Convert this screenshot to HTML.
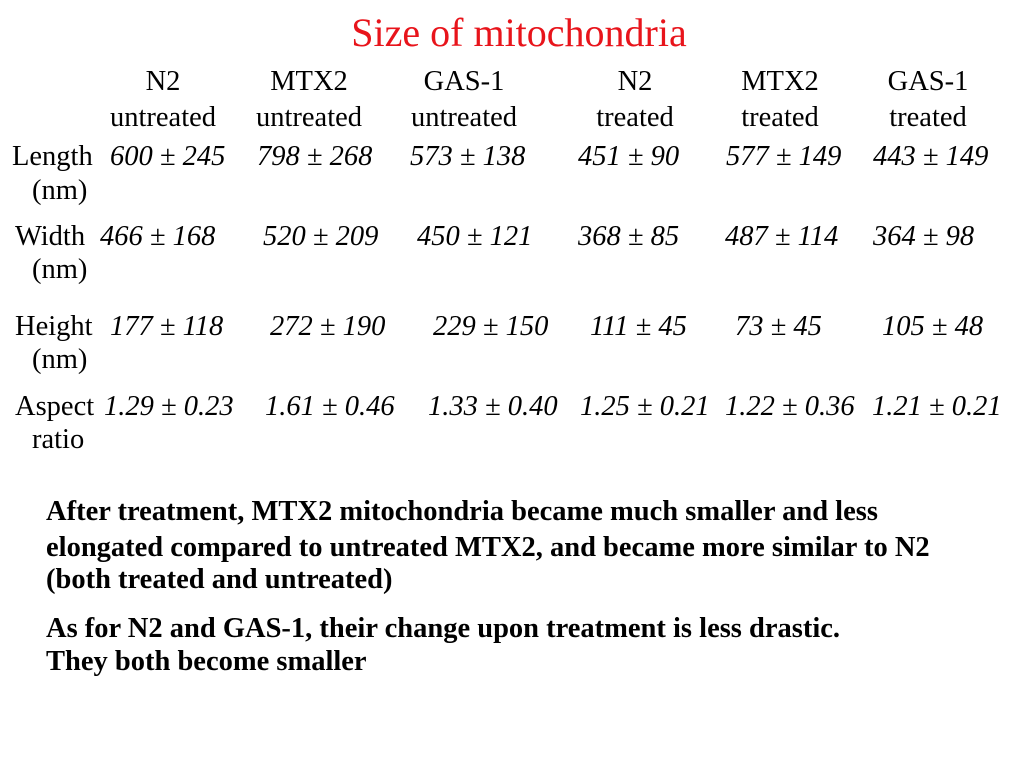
<!DOCTYPE html>
<html><head><meta charset="utf-8"><style>
body{margin:0;width:1024px;height:767px;background:#fff;position:relative;overflow:hidden;font-family:"Liberation Serif",serif;color:#000}
div{position:absolute;white-space:nowrap;line-height:1}
.t{font-size:40px;color:#e8141b;left:0;width:1038px;text-align:center;top:13px}
.h{font-size:28.5px;text-align:center;width:180px}
.l{font-size:28.5px}
.v{font-size:28.5px;font-style:italic}
.b{font-size:28.5px;font-weight:bold;left:46px}
</style></head><body>
<div class="t">Size of mitochondria</div>
<div class="h" style="left:73px;top:68px">N2</div><div class="h" style="left:73px;top:104px">untreated</div>
<div class="h" style="left:219px;top:68px">MTX2</div><div class="h" style="left:219px;top:104px">untreated</div>
<div class="h" style="left:374px;top:68px">GAS-1</div><div class="h" style="left:374px;top:104px">untreated</div>
<div class="h" style="left:545px;top:68px">N2</div><div class="h" style="left:545px;top:104px">treated</div>
<div class="h" style="left:690px;top:68px">MTX2</div><div class="h" style="left:690px;top:104px">treated</div>
<div class="h" style="left:838px;top:68px">GAS-1</div><div class="h" style="left:838px;top:104px">treated</div>

<div class="l" style="left:12px;top:143px">Length</div><div class="l" style="left:32px;top:177px">(nm)</div>
<div class="l" style="left:15px;top:223px">Width</div><div class="l" style="left:32px;top:256px">(nm)</div>
<div class="l" style="left:15px;top:313px">Height</div><div class="l" style="left:32px;top:346px">(nm)</div>
<div class="l" style="left:15px;top:393px">Aspect</div><div class="l" style="left:32px;top:426px">ratio</div>

<div class="v" style="left:110px;top:143px">600 ± 245</div>
<div class="v" style="left:257px;top:143px">798 ± 268</div>
<div class="v" style="left:410px;top:143px">573 ± 138</div>
<div class="v" style="left:578px;top:143px">451 ± 90</div>
<div class="v" style="left:726px;top:143px">577 ± 149</div>
<div class="v" style="left:873px;top:143px">443 ± 149</div>

<div class="v" style="left:100px;top:223px">466 ± 168</div>
<div class="v" style="left:263px;top:223px">520 ± 209</div>
<div class="v" style="left:417px;top:223px">450 ± 121</div>
<div class="v" style="left:578px;top:223px">368 ± 85</div>
<div class="v" style="left:725px;top:223px">487 ± 114</div>
<div class="v" style="left:873px;top:223px">364 ± 98</div>

<div class="v" style="left:110px;top:313px">177 ± 118</div>
<div class="v" style="left:270px;top:313px">272 ± 190</div>
<div class="v" style="left:433px;top:313px">229 ± 150</div>
<div class="v" style="left:590px;top:313px">111 ± 45</div>
<div class="v" style="left:735px;top:313px">73 ± 45</div>
<div class="v" style="left:882px;top:313px">105 ± 48</div>

<div class="v" style="left:104px;top:393px">1.29 ± 0.23</div>
<div class="v" style="left:265px;top:393px">1.61 ± 0.46</div>
<div class="v" style="left:428px;top:393px">1.33 ± 0.40</div>
<div class="v" style="left:580px;top:393px">1.25 ± 0.21</div>
<div class="v" style="left:725px;top:393px">1.22 ± 0.36</div>
<div class="v" style="left:872px;top:393px">1.21 ± 0.21</div>

<div class="b" style="top:498px">After treatment, MTX2 mitochondria became much smaller and less</div>
<div class="b" style="top:534px">elongated compared to untreated MTX2, and became more similar to N2</div>
<div class="b" style="top:566px">(both treated and untreated)</div>
<div class="b" style="top:615px">As for N2 and GAS-1, their change upon treatment is less drastic.</div>
<div class="b" style="top:648px">They both become smaller</div>
</body></html>
